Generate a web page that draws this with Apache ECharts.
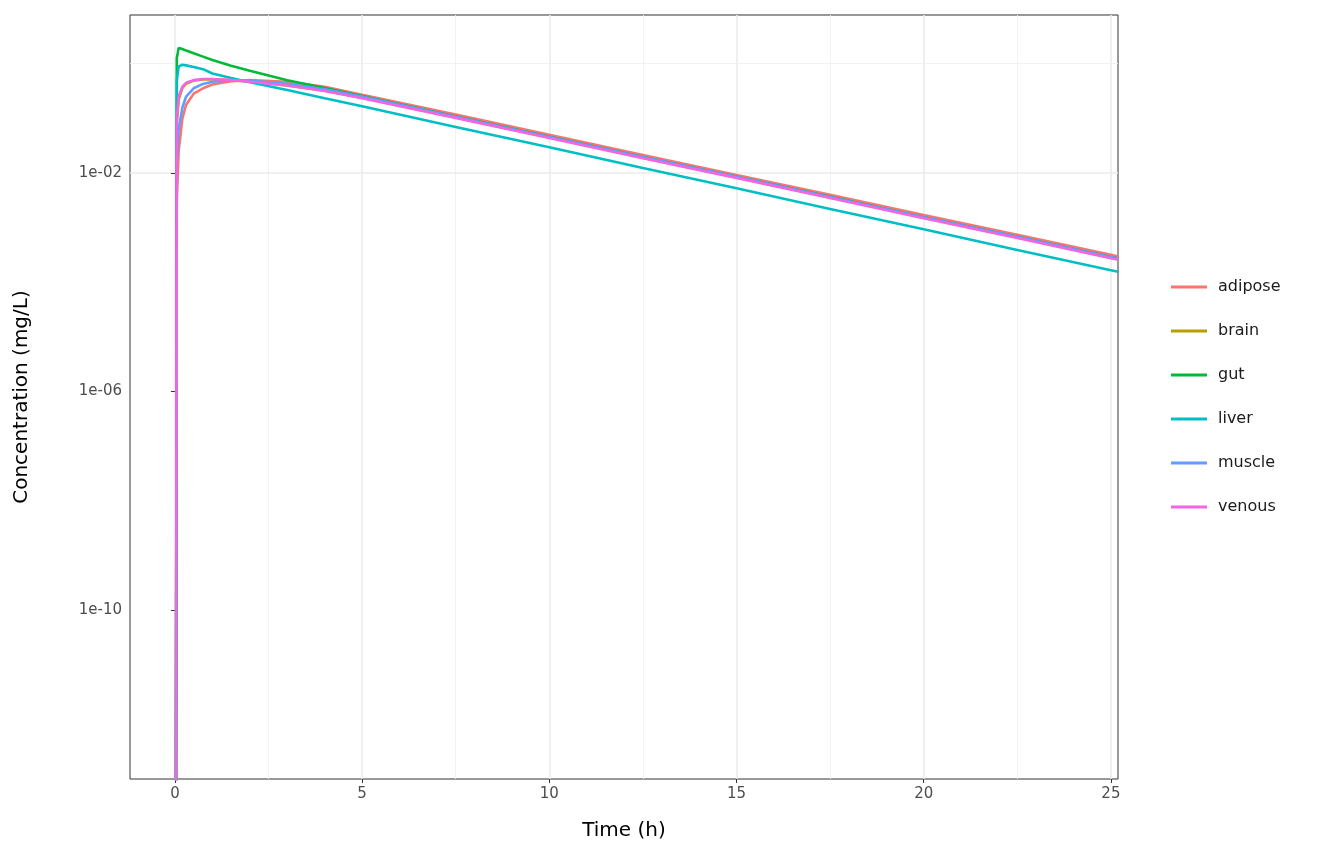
<!DOCTYPE html>
<html><head><meta charset="utf-8">
<script src="https://cdn.jsdelivr.net/npm/echarts@6/dist/echarts.min.js"></script>
<style>html,body{margin:0;padding:0;background:#fff}#c{width:1344px;height:864px}</style>
</head><body><div id="c"></div>
<script>
const times = [0,0.05,0.1,0.2,0.3,0.5,0.75,1,1.5,2,3,4,5,7.5,10,12.5,15,17.5,20,22.5,25,25.2];
const adipose = [1e-30,0.00316,0.0251,0.1,0.178,0.282,0.355,0.417,0.479,0.501,0.468,0.380,0.269,0.117,0.0501,0.0214,0.00912,0.00398,0.0017,0.000741,0.000316,0.000295];
const brain = [1e-30,0.08,0.22,0.36,0.43,0.49,0.515,0.52,0.50,0.47,0.40,0.32,0.238,0.104,0.0445,0.019,0.0083,0.00354,0.00151,0.00066,0.00028,0.000262];
const gut = [1e-30,1.26,1.95,1.86,1.74,1.55,1.35,1.17,0.92,0.74,0.50,0.36,0.257,0.108,0.0458,0.0196,0.00855,0.00365,0.00155,0.000680,0.000290,0.000270];
const liver = [1e-30,0.501,0.891,0.955,0.933,0.871,0.794,0.661,0.550,0.457,0.331,0.234,0.166,0.0692,0.0295,0.0123,0.00525,0.00219,0.000933,0.000389,0.000166,0.000155];
const muscle = [1e-30,0.0158,0.0631,0.158,0.251,0.355,0.427,0.468,0.501,0.490,0.427,0.339,0.251,0.107,0.0457,0.0195,0.00851,0.00363,0.00155,0.000676,0.000288,0.000269];
const venous = [1e-30,0.1,0.251,0.380,0.447,0.501,0.525,0.525,0.501,0.468,0.398,0.316,0.234,0.102,0.0437,0.0186,0.00813,0.00347,0.00148,0.000646,0.000275,0.000257];
const seriesNames = ['adipose','brain','gut','liver','muscle','venous'];
const seriesData = [adipose,brain,gut,liver,muscle,venous];
const colors = ['#F8766D','#B79F00','#00BA38','#00BFC4','#619CFF','#F564E3'];
const xTicks = [0,5,10,15,20,25];
const xMinor = [2.5,7.5,12.5,17.5,22.5];
const yTicks = [1e-2,1e-6,1e-10];
const yMinor = [1,1e-4,1e-8,1e-12];

const chart = echarts.init(document.getElementById('c'));
const gridLines = [];
const major = {color:'#ebebeb',width:1.6,type:'solid'};
const minor = {color:'#f0f0f0',width:0.9,type:'solid'};
xTicks.forEach(v=>gridLines.push({xAxis:v,lineStyle:major}));
xMinor.forEach(v=>gridLines.push({xAxis:v,lineStyle:minor}));
yTicks.forEach(v=>gridLines.push({yAxis:v,lineStyle:major}));
yMinor.forEach(v=>gridLines.push({yAxis:v,lineStyle:minor}));
const series = [{
  type:'line', data:[], silent:true, z:0, zlevel:0,
  markLine:{silent:true,symbol:'none',label:{show:false},data:gridLines,animation:false,z:0,lineStyle:{type:'solid'}}
}];
seriesNames.forEach((n,i)=>series.push({
  name:n,type:'line',showSymbol:false,symbol:'none',clip:true,z:5,
  lineStyle:{width:2.6,color:colors[i]},itemStyle:{color:colors[i]},
  data:times.map((t,j)=>[t,seriesData[i][j]])
}));
chart.setOption({
  animation:false,
  textStyle:{fontFamily:'DejaVu Sans'},
  grid:{left:130,right:226,top:15,bottom:85,show:true,borderColor:'#333',borderWidth:1,backgroundColor:'#fff'},
  legend:{orient:'vertical',left:1166,top:274,itemWidth:36,itemHeight:3,itemGap:28,icon:'rect',
    data:seriesNames,textStyle:{fontSize:16,color:'#1a1a1a',padding:[0,0,0,6]}},
  xAxis:{type:'value',min:-1.2,max:25.19,name:'Time (h)',nameLocation:'middle',nameGap:42,
    nameTextStyle:{fontSize:20,color:'#000'},
    axisLine:{show:false},splitLine:{show:false},
    axisTick:{show:true,customValues:xTicks,length:4,lineStyle:{color:'#333'}},
    axisLabel:{customValues:xTicks,fontSize:15,color:'#4d4d4d',margin:8}},
  yAxis:{type:'log',logBase:10,min:8e-14,max:7.8,name:'Concentration (mg/L)',nameLocation:'middle',nameGap:98,
    nameTextStyle:{fontSize:20,color:'#000'},
    axisLine:{show:false},splitLine:{show:false},
    axisTick:{show:true,customValues:yTicks,length:4,lineStyle:{color:'#333'}},
    axisLabel:{customValues:yTicks,fontSize:15,color:'#4d4d4d',margin:8,
      formatter:v=>v.toExponential(0).replace(/e([+-])(\d)$/,'e$10$2')}},
  series:series
});
</script></body></html>
